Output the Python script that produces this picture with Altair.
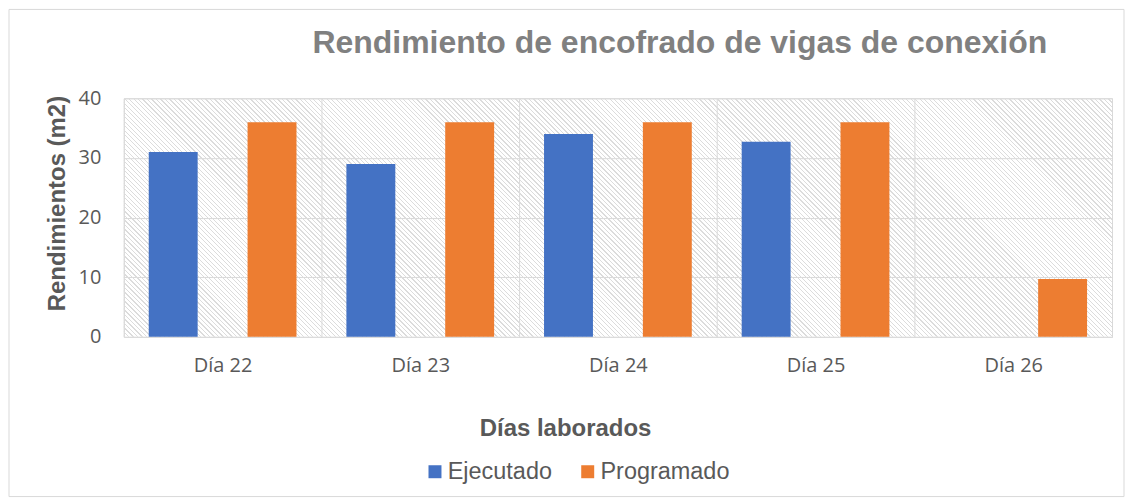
import altair as alt
import pandas as pd

dias = ["Día 22", "Día 23", "Día 24", "Día 25", "Día 26"]
ejecutado = [31, 29, 34, 32.7, None]
programado = [36, 36, 36, 36, 9.7]
series = ["Ejecutado", "Programado"]
colors = ["#4472C4", "#ED7D31"]
y_ticks = [0, 10, 20, 30, 40]

rows = []
for d, e, p in zip(dias, ejecutado, programado):
    rows.append({"dia": d, "serie": series[0], "valor": e})
    rows.append({"dia": d, "serie": series[1], "valor": p})
df = pd.DataFrame(rows)

W, H = 990, 239
grey = "#595959"
grid = "#d9d9d9"

# diagonal hatch ("\" direction) for the plot background, as a striped gradient
L = W + H
k = L / (W * W + H * H)
spacing, lw = 4.5, 1.3
clear, ink = "rgba(255,255,255,0)", "#dcdcdc"
stops = []
s = 0.0
while s < L:
    a = s / L
    b = min((s + lw) / L, 1.0)
    stops += [alt.GradientStop(offset=a, color=clear), alt.GradientStop(offset=a, color=ink),
              alt.GradientStop(offset=b, color=ink), alt.GradientStop(offset=b, color=clear)]
    s += spacing
hatch_fill = alt.LinearGradient(gradient="linear", stops=stops,
                                x1=0, y1=1, x2=k * W, y2=1 - k * H)

hatch = alt.Chart(pd.DataFrame({"k": [0]})).mark_rect(fill=hatch_fill, strokeWidth=0).encode(
    x=alt.value(0), x2=alt.value(W), y=alt.value(0), y2=alt.value(H)
)

bars = alt.Chart(df).mark_bar().encode(
    x=alt.X("dia:N", sort=dias,
            scale=alt.Scale(paddingInner=0, paddingOuter=0),
            axis=alt.Axis(title="Días laborados", labelAngle=0, ticks=False, domain=False,
                          grid=True, tickBand="extent", gridColor=grid, gridWidth=1,
                          labelFont="Open Sans", labelFontSize=20, labelColor=grey,
                          labelPadding=19, titleFont="Liberation Sans", titleFontSize=24,
                          titleFontWeight="bold", titleColor=grey, titlePadding=41,
                          titleX=442)),
    xOffset=alt.XOffset("serie:N", sort=series,
                        scale=alt.Scale(paddingInner=0.505, paddingOuter=0.2525)),
    y=alt.Y("valor:Q", scale=alt.Scale(domain=[0, 40], nice=False),
            axis=alt.Axis(title="Rendimientos (m2)", values=y_ticks, ticks=False, domain=False,
                          gridColor=grid, gridWidth=1,
                          labelFont="Open Sans", labelFontSize=20, labelColor=grey,
                          labelPadding=23, titleFont="Liberation Sans", titleFontSize=24,
                          titleFontWeight="bold", titleColor=grey, titlePadding=9,
                          titleY=105)),
    color=alt.Color("serie:N", sort=series,
                    scale=alt.Scale(domain=series, range=colors),
                    legend=alt.Legend(title=None, orient="none", direction="horizontal",
                                      legendX=300, legendY=362, symbolType="square",
                                      symbolSize=169, symbolStrokeWidth=0,
                                      labelFont="Liberation Sans", labelFontSize=23.5,
                                      labelColor=grey, labelOffset=1, columnPadding=23)),
)

border = alt.Chart(pd.DataFrame({"k": [0]})).mark_rect(
    fill=None, stroke="#d9d9d9", strokeWidth=1, clip=False
).encode(
    x=alt.value(-115), x2=alt.value(1002), y=alt.value(-89), y2=alt.value(399)
)

chart = alt.layer(border, hatch, bars).properties(
    width=W, height=H, padding=0,
    title=alt.Title("Rendimiento de encofrado de vigas de conexión", anchor="middle",
                    frame="group", dx=62, offset=-51, font="Liberation Sans",
                    fontSize=32, fontWeight="bold", color="#808080"),
).configure_view(stroke=grid, strokeWidth=1).configure(background="white")

chart.save("out.html", embed_options={"renderer": "svg", "actions": False})
